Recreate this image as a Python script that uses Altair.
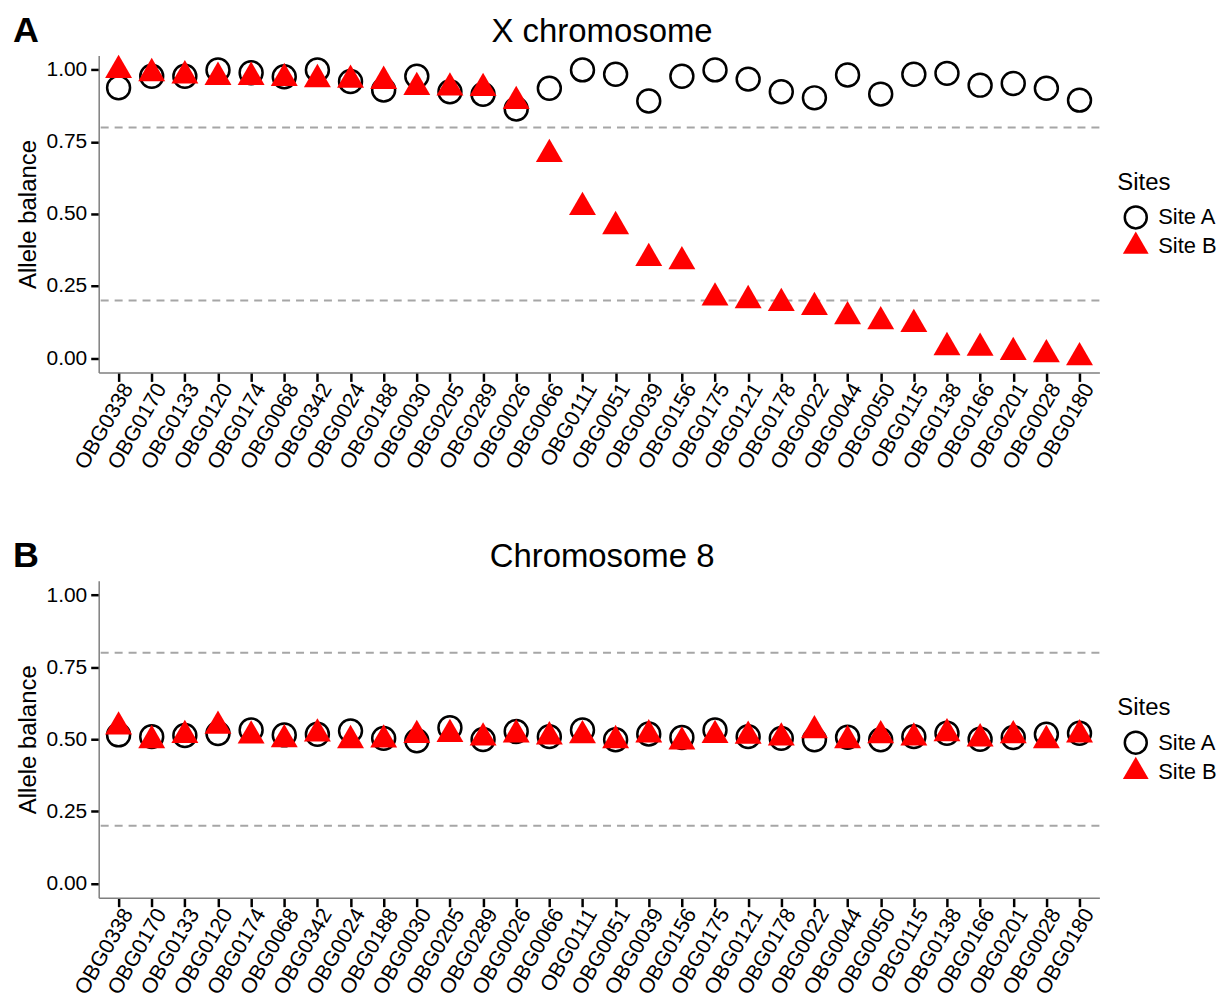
import altair as alt
import pandas as pd

FONT = "Liberation Sans"

samples = ["OBG0338", "OBG0170", "OBG0133", "OBG0120", "OBG0174", "OBG0068",
           "OBG0342", "OBG0024", "OBG0188", "OBG0030", "OBG0205", "OBG0289",
           "OBG0026", "OBG0066", "OBG0111", "OBG0051", "OBG0039", "OBG0156",
           "OBG0175", "OBG0121", "OBG0178", "OBG0022", "OBG0044", "OBG0050",
           "OBG0115", "OBG0138", "OBG0166", "OBG0201", "OBG0028", "OBG0180"]
sites = ["Site A", "Site B"]

# X chromosome
x_site_a = [0.938, 0.978, 0.978, 1.000, 0.990, 0.976, 1.000, 0.960, 0.930, 0.978,
            0.924, 0.915, 0.864, 0.936, 1.000, 0.985, 0.892, 0.978, 1.000, 0.968,
            0.924, 0.903, 0.982, 0.916, 0.985, 0.988, 0.947, 0.953, 0.936, 0.895]
x_site_b = [0.999, 0.988, 0.980, 0.975, 0.975, 0.971, 0.967, 0.965, 0.961, 0.940,
            0.938, 0.936, 0.891, 0.707, 0.523, 0.457, 0.346, 0.335, 0.209, 0.200,
            0.190, 0.176, 0.144, 0.127, 0.117, 0.037, 0.035, 0.020, 0.012, 0.002]

# Chromosome 8
c8_site_a = [0.515, 0.509, 0.513, 0.520, 0.532, 0.515, 0.517, 0.529, 0.503, 0.495,
             0.540, 0.499, 0.527, 0.509, 0.532, 0.498, 0.518, 0.506, 0.532, 0.509,
             0.503, 0.498, 0.507, 0.498, 0.509, 0.521, 0.500, 0.506, 0.517, 0.521]
c8_site_b = [0.543, 0.496, 0.514, 0.546, 0.512, 0.499, 0.519, 0.496, 0.498, 0.514,
             0.517, 0.505, 0.516, 0.509, 0.513, 0.496, 0.516, 0.491, 0.514, 0.511,
             0.505, 0.530, 0.496, 0.513, 0.505, 0.520, 0.502, 0.513, 0.496, 0.516]

thresholds = [0.2, 0.8]
y_ticks = [0, 0.25, 0.5, 0.75, 1.0]

# triangle centred on its centroid (like R's pch 17)
TRI = "M0,-1.357L1.175,0.679L-1.175,0.679Z"

W, H = 1004, 318


def panel(title, letter, a_vals, b_vals):
    df = pd.DataFrame({
        "Sample": samples * 2,
        "Site": [sites[0]] * len(samples) + [sites[1]] * len(samples),
        "Balance": a_vals + b_vals,
    })
    ydom = alt.Scale(domain=[-0.05, 1.05], nice=False, zero=False)
    x = alt.X("Sample:N", sort=samples,
              scale=alt.Scale(type="point", padding=0.6),
              axis=alt.Axis(title=None, labelAngle=-60, labelAlign="right",
                            labelBaseline="top", labelFontSize=21.5, labelFont=FONT,
                            labelColor="black", tickColor="black", tickWidth=2.5,
                            tickSize=9, domainColor="#7f7f7f", domainWidth=1.5,
                            labelPadding=-2, grid=False))
    yaxis = alt.Axis(title="Allele balance", values=y_ticks, format=".2f",
                     labelFontSize=21, labelFont=FONT, labelColor="black",
                     tickColor="black", tickWidth=2.5, tickSize=8,
                     domainColor="#7f7f7f", domainWidth=1.5, labelPadding=4,
                     titleFontSize=24, titleFont=FONT, titleFontWeight="normal",
                     titleColor="black", titlePadding=6, grid=False)
    legend = alt.Legend(title="Sites", orient="none", legendX=1022, legendY=116,
                        titleFontSize=24, titleFont=FONT, titleFontWeight="normal",
                        titleColor="black", labelFontSize=22, labelFont=FONT,
                        labelColor="black", symbolSize=484, symbolStrokeWidth=2.5,
                        rowPadding=-12, titlePadding=10, labelOffset=10,
                        symbolOffset=6)
    rules = alt.Chart(pd.DataFrame({"Balance": thresholds})).mark_rule(
        color="#a6a6a6", strokeDash=[8, 6], strokeWidth=2
    ).encode(y=alt.Y("Balance:Q", scale=ydom, axis=yaxis))
    points = alt.Chart(df).mark_point(filled=True, size=529, opacity=1,
                                      strokeWidth=2.5).encode(
        x=x,
        y=alt.Y("Balance:Q", scale=ydom, axis=yaxis),
        shape=alt.Shape("Site:N", scale=alt.Scale(domain=sites, range=["circle", TRI]),
                        legend=legend),
        fill=alt.Fill("Site:N", scale=alt.Scale(domain=sites, range=["transparent", "#ff0000"]),
                      legend=legend),
        stroke=alt.Stroke("Site:N", scale=alt.Scale(domain=sites, range=["black", "transparent"]),
                          legend=legend),
    )
    tag = alt.Chart(pd.DataFrame({"label": [letter]})).mark_text(
        fontSize=36, fontWeight="bold", font=FONT, align="left",
        baseline="alphabetic", color="black"
    ).encode(text="label:N", x=alt.value(-86), y=alt.value(-14))
    ttl = alt.Chart(pd.DataFrame({"label": [title]})).mark_text(
        fontSize=33, font=FONT, align="center",
        baseline="alphabetic", color="black"
    ).encode(text="label:N", x=alt.value(W / 2 + 3), y=alt.value(-14))
    return alt.layer(rules, points, tag, ttl).properties(width=W, height=H)


chart = alt.vconcat(
    panel("X chromosome", "A", x_site_a, x_site_b),
    panel("Chromosome 8", "B", c8_site_a, c8_site_b),
    spacing=65,
).resolve_scale(
    shape="independent", fill="independent", stroke="independent"
).resolve_legend(
    shape="independent", fill="independent", stroke="independent"
).properties(
    padding={"left": 5, "top": 3, "right": 2, "bottom": 2},
    background="white",
).configure_view(stroke=None)

chart.save("out.html", embed_options={"renderer": "svg", "actions": False})
